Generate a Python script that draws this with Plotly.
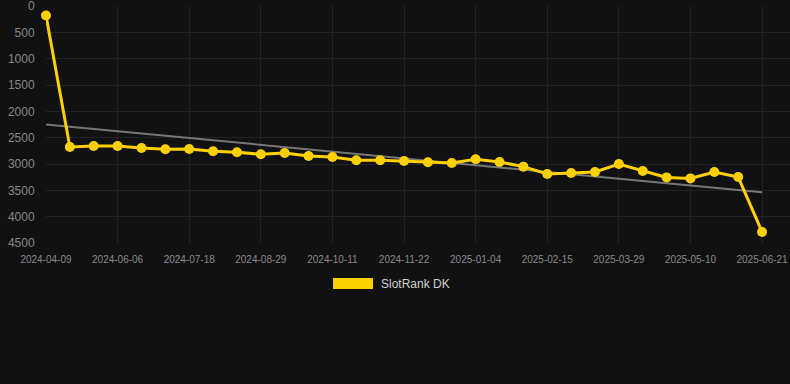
import numpy as np
import plotly.graph_objects as go

dates = [
    "2024-04-09", "2024-05-09", "2024-05-23", "2024-06-06", "2024-06-20", "2024-07-04",
    "2024-07-18", "2024-08-01", "2024-08-15", "2024-08-29", "2024-09-12", "2024-09-26",
    "2024-10-11", "2024-10-25", "2024-11-08", "2024-11-22", "2024-12-06", "2024-12-20",
    "2025-01-04", "2025-01-18", "2025-02-01", "2025-02-15", "2025-03-01", "2025-03-15",
    "2025-03-29", "2025-04-12", "2025-04-26", "2025-05-10", "2025-05-24", "2025-06-07",
    "2025-06-21",
]
rank = [180, 2676, 2657, 2657, 2695, 2719, 2714, 2758, 2777, 2815, 2790, 2847,
        2866, 2929, 2929, 2942, 2967, 2980, 2910, 2961, 3050, 3190, 3171, 3152,
        3000, 3133, 3254, 3273, 3152, 3248, 4290]
tick_dates = dates[::3]
y_ticks = [0, 500, 1000, 1500, 2000, 2500, 3000, 3500, 4000, 4500]
series_name = "SlotRank DK"

idx = np.arange(len(rank))
slope, intercept = np.polyfit(idx, rank, 1)
trend = list(intercept + slope * idx)

BG = "#111111"
GOLD = "#FFD000"

fig = go.Figure()
fig.add_trace(go.Scatter(
    x=dates, y=trend, mode="lines",
    line=dict(color="#777777", width=2),
    showlegend=False, hoverinfo="skip",
))
fig.add_trace(go.Scatter(
    x=dates, y=rank, mode="lines+markers", name=series_name,
    line=dict(color=GOLD, width=3),
    marker=dict(color=GOLD, size=10),
    cliponaxis=False, showlegend=False,
))

# legend (drawn manually: wide coloured box + label)
fig.add_shape(type="rect", xref="paper", yref="paper",
              x0=0.3858, x1=0.4395, y0=-0.1945, y1=-0.148,
              fillcolor=GOLD, line=dict(width=0))
fig.add_annotation(text=series_name, xref="paper", yref="paper",
                   x=0.4476, y=-0.171, xanchor="left", yanchor="middle",
                   showarrow=False, font=dict(size=12, color="#d0d0d0"))

fig.update_layout(
    width=790, height=384,
    paper_bgcolor=BG, plot_bgcolor=BG,
    margin=dict(l=46, r=0, t=6, b=141),
    font=dict(family="Liberation Sans, Arial, sans-serif", color="#888888"),
    showlegend=False,
)
fig.update_xaxes(
    type="category", range=[0, 31.17],
    tickvals=tick_dates, ticktext=tick_dates,
    tickfont=dict(size=10, color="#888888"),
    showgrid=True, gridcolor="#222222", gridwidth=1,
    zeroline=False, showline=False,
    ticks="outside", ticklen=7, tickcolor=BG,
    ticklabeloverflow="allow",
)
fig.update_yaxes(
    range=[4500, -1], tickvals=y_ticks,
    tickfont=dict(size=12, color="#888888"),
    showgrid=True, gridcolor="#222222", gridwidth=1,
    zeroline=False, showline=False,
    ticks="outside", ticklen=8, tickcolor=BG,
    ticklabeloverflow="allow",
)

fig.write_html(
    "out.html",
    config={"displayModeBar": False},
    post_script="document.body.style.margin='0';document.body.style.background='#111111';",
)
